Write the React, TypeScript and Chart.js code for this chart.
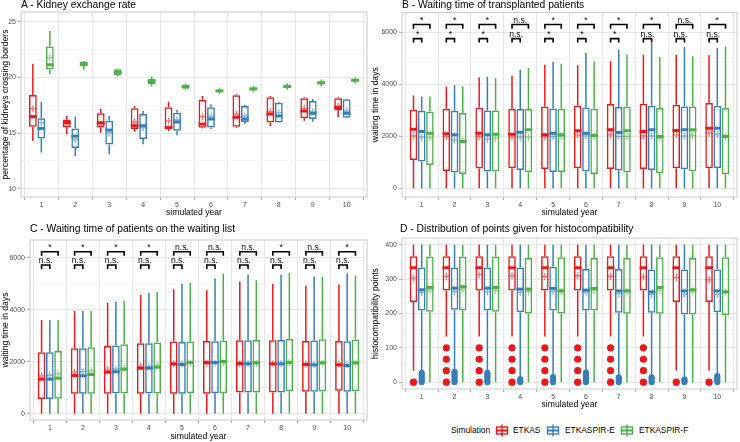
import React, { useEffect, useRef } from "react";
import { Chart, registerables } from "chart.js";
Chart.register(...registerables);

const FONT = "'Liberation Sans', Arial, Helvetica, sans-serif";
Chart.defaults.font.family = FONT;

const years = [1, 2, 3, 4, 5, 6, 7, 8, 9, 10];
const simulations = ["ETKAS", "ETKASPIR-E", "ETKASPIR-F"];
const simColors = ["#E41A1C", "#377EB8", "#4DAF4A"];
const simMeanColors = ["rgba(228,26,28,0.6)", "rgba(55,126,184,0.6)", "rgba(77,175,74,0.6)"];

// ---- Panel A: kidney exchange rate  [lower whisker, q1, median, q3, upper whisker]
const kidneyEtkas = [
  [14.3, 15.57, 16.48, 18.43, 21.24], [14.9, 15.5, 15.96, 16.23, 16.54], [15.03, 15.51, 15.93, 16.78, 17.17],
  [15.12, 15.36, 15.66, 17.23, 17.44], [15.2, 15.39, 15.5, 17.32, 17.83], [15.42, 15.48, 15.81, 17.98, 18.34],
  [15.48, 15.57, 16.42, 18.4, 18.5], [15.63, 15.96, 16.72, 18.22, 18.34], [16.11, 16.33, 16.99, 18.13, 18.22],
  [16.42, 17.08, 17.29, 18.13, 18.22],
];
const kidneyPirE = [
  [13.25, 14.52, 15.42, 16.33, 17.8], [12.95, 13.67, 14.73, 15.42, 16.48], [13.1, 13.98, 15.27, 16.11, 16.54],
  [14.0, 14.46, 15.66, 16.72, 17.0], [14.8, 15.21, 16.0, 16.84, 17.08], [15.36, 15.51, 16.27, 17.32, 17.59],
  [15.81, 16.0, 16.27, 17.44, 17.53], [15.93, 15.96, 16.54, 17.74, 17.83], [16.02, 16.27, 16.78, 17.89, 18.07],
  [16.33, 16.39, 16.78, 18.04, 18.1],
];
const kidneyPirF = [
  [20.3, 20.75, 21.15, 22.8, 24.2], [20.7, 21.05, 21.23, 21.42, 21.5], [20.15, 20.2, 20.48, 20.75, 20.78],
  [19.25, 19.4, 19.64, 19.9, 20.1], [18.95, 19.0, 19.19, 19.31, 19.4], [18.58, 18.67, 18.8, 18.89, 18.95],
  [18.77, 18.86, 18.98, 19.1, 19.19], [18.95, 19.07, 19.19, 19.34, 19.43], [19.25, 19.4, 19.52, 19.67, 19.73],
  [19.55, 19.64, 19.76, 19.85, 19.9],
];
const kidneyMeanEtkas = [17.2, 15.8, 15.8, 16.0, 16.1, 16.48, 16.72, 16.93, 17.23, 17.44];
const kidneyMeanPirE = [15.95, 14.4, 15.03, 15.48, 16.2, 16.5, 16.54, 16.84, 16.93, 16.99];
const kidneyMeanPirF = [21.8, 21.2, 20.45, 19.65, 19.17, 18.78, 18.97, 19.2, 19.53, 19.75];
const kidneyTicks = [10, 15, 20, 25];
const kidneyMinorTicks = [12.5, 17.5, 22.5];

// ---- Panel B: waiting time of transplanted patients
const transplantedEtkas = [
  [0, 1092, 2275, 3020, 3572], [0, 668, 2095, 3058, 3919], [0, 758, 2120, 3097, 4266], [0, 771, 2082, 3058, 4330],
  [0, 745, 2056, 3148, 4754], [0, 771, 2210, 3174, 4729], [0, 745, 2249, 3238, 4883], [0, 745, 2185, 3251, 5140],
  [0, 771, 2223, 3212, 5140], [0, 771, 2313, 3277, 5114],
];
const transplantedPirE = [
  [0, 1028, 2185, 2981, 3534], [0, 604, 2056, 2981, 3958], [0, 643, 2056, 2994, 4292], [0, 707, 2159, 3045, 4562],
  [0, 630, 2120, 3071, 4857], [0, 643, 2120, 3110, 5204], [0, 681, 2146, 3123, 5332], [0, 707, 2249, 3174, 5590],
  [0, 732, 2249, 3148, 5435], [0, 784, 2313, 3174, 5397],
];
const transplantedPirF = [
  [0, 900, 2120, 2956, 3534], [0, 553, 1799, 2891, 3919], [0, 643, 2082, 2994, 4228], [0, 617, 2249, 3045, 4626],
  [0, 630, 2056, 3058, 4793], [0, 553, 2030, 3058, 4883], [0, 604, 2210, 3148, 5140], [0, 578, 1992, 3084, 5050],
  [0, 643, 2249, 3148, 5076], [0, 540, 1992, 3084, 5461],
];
const transplantedMeanEtkas = [2017, 1992, 1992, 1966, 1979, 2056, 2056, 2017, 2056, 2120];
const transplantedMeanPirE = [1966, 1863, 1889, 1966, 1992, 2017, 1992, 2017, 2017, 2082];
const transplantedMeanPirF = [1953, 1838, 1928, 1966, 1992, 1992, 1992, 1928, 2030, 1966];
const transplantedSigEtkasPirF = ["*", "*", "*", "n.s.", "*", "*", "*", "*", "n.s.", "*"];
const transplantedSigEtkasPirE = ["*", "*", "*", "n.s.", "*", "*", "*", "n.s.", "n.s.", "n.s."];

// ---- Panel C: waiting time of patients on the waiting list
const waitingEtkas = [
  [0, 563, 1330, 2366, 3607], [0, 767, 1471, 2520, 3950], [0, 767, 1599, 2609, 4270], [0, 767, 1752, 2711, 4570],
  [0, 767, 1919, 2775, 4790], [0, 767, 1970, 2801, 4750], [0, 819, 1931, 2827, 5080], [0, 819, 1919, 2827, 5000],
  [0, 844, 1893, 2801, 4920], [0, 883, 1880, 2801, 4970],
];
const waitingPirE = [
  [0, 563, 1330, 2366, 3607], [0, 767, 1458, 2520, 3950], [0, 780, 1612, 2622, 4310], [0, 780, 1752, 2711, 4650],
  [0, 767, 1893, 2763, 5000], [0, 793, 1970, 2790, 5200], [0, 819, 1919, 2827, 5350], [0, 819, 1919, 2839, 5330],
  [0, 844, 1880, 2814, 5280], [0, 844, 1855, 2788, 5400],
];
const waitingPirF = [
  [0, 576, 1369, 2417, 3607], [0, 767, 1509, 2558, 3950], [0, 780, 1714, 2673, 4340], [0, 780, 1791, 2737, 4680],
  [0, 793, 1970, 2775, 5040], [0, 793, 2008, 2814, 5380], [0, 819, 1957, 2839, 5140], [0, 857, 1970, 2878, 5420],
  [0, 857, 1957, 2865, 5260], [0, 870, 1957, 2852, 5320],
];
const waitingMeanEtkas = [1458, 1599, 1688, 1816, 1919, 1945, 1919, 1919, 1906, 1906];
const waitingMeanPirE = [1480, 1625, 1714, 1816, 1919, 1945, 1919, 1919, 1893, 1893];
const waitingMeanPirF = [1535, 1650, 1752, 1855, 1945, 1957, 1945, 1957, 1945, 1945];
const waitingSigEtkasPirF = ["*", "*", "*", "*", "n.s.", "n.s.", "n.s.", "*", "n.s.", "*"];
const waitingSigEtkasPirE = ["n.s.", "n.s.", "n.s.", "n.s.", "n.s.", "n.s.", "n.s.", "n.s.", "n.s.", "n.s."];
const timeTicks = [0, 2000, 4000, 6000];
const timeMinorTicks = [1000, 3000, 5000];

// ---- Panel D: histocompatibility points
const histoEtkas = [
  [33.3, 233.3, 333.3, 366.7, 400], [133.3, 266.7, 333.3, 366.7, 400], [133.3, 266.7, 333.3, 366.7, 400],
  [133.3, 266.7, 333.3, 366.7, 400], [133.3, 266.7, 333.3, 366.7, 400], [133.3, 266.7, 333.3, 366.7, 400],
  [133.3, 266.7, 333.3, 366.7, 400], [133.3, 266.7, 333.3, 366.7, 400], [33.3, 233.3, 333.3, 366.7, 400],
  [33.3, 233.3, 333.3, 366.7, 400],
];
const histoPirE = [
  [30, 209, 269, 334, 400], [32, 211, 274, 334, 400], [30, 209, 274, 334, 400], [12, 204, 271, 334, 400],
  [18, 209, 273, 336, 400], [30, 209, 268, 330, 400], [16, 202, 266, 330, 400], [16, 202, 263, 328, 400],
  [10, 197, 266, 328, 400], [20, 204, 266, 328, 400],
];
const histoPirF = [
  [0, 205, 276, 366, 400], [0, 209, 278, 366, 400], [0, 205, 276, 366, 400], [0, 200, 271, 362, 400],
  [0, 200, 266, 364, 400], [0, 209, 273, 362, 400], [0, 199, 266, 362, 400], [0, 199, 276, 364, 400],
  [0, 197, 269, 362, 400], [0, 195, 263, 364, 400],
];
const histoMeanEtkas = [303, 308, 313, 310, 308, 310, 308, 307, 305, 298];
const histoMeanPirE = [261, 264, 263, 261, 264, 262, 258, 256, 256, 256];
const histoMeanPirF = [268, 271, 268, 264, 264, 266, 264, 268, 266, 263];
const histoOutliersEtkas = [
  [0], [0, 33.3, 66.7, 100], [0, 33.3, 66.7, 100], [0, 33.3, 66.7, 100], [0, 33.3, 66.7, 100],
  [0, 33.3, 66.7, 100], [0, 33.3, 66.7, 100], [0, 33.3, 66.7, 100], [0], [0],
];
const histoOutliersPirE = [
  [0, 4, 8, 12, 16, 20, 24, 27], [0, 4, 8, 12, 16, 20, 24, 28, 30], [0, 4, 8, 12, 16, 20, 24, 27],
  [0, 3, 6, 9], [0, 4, 8, 12, 15], [0, 4, 8, 12, 16, 20, 24, 28], [0, 4, 8, 12, 14], [0, 4, 8, 12, 14],
  [0, 3, 6, 8], [0, 4, 8, 12, 16, 18],
];
const histoOutliersPirF: number[][] = [[], [], [], [], [], [], [], [], [], []];
const histoTicks = [0, 100, 200, 300, 400];
const histoMinorTicks = [50, 150, 250, 350];

type Bracket = { level: number; tip: number; to: number; labels: string[] };
type Panel = {
  title: string;
  stats: number[][][];
  means: number[][];
  outliers?: number[][][];
  outlierRadius?: number[];
  yMin: number;
  yMax: number;
  yMajor: number[];
  yMinor: number[];
  yTitle: string;
  brackets?: Bracket[];
};

const panelA: Panel = {
  title: "A - Kidney exchange rate",
  stats: [kidneyEtkas, kidneyPirE, kidneyPirF],
  means: [kidneyMeanEtkas, kidneyMeanPirE, kidneyMeanPirF],
  yMin: 9.25, yMax: 25.9, yMajor: kidneyTicks, yMinor: kidneyMinorTicks,
  yTitle: "percentage of kidneys crossing borders",
};
const panelB: Panel = {
  title: "B - Waiting time of transplanted patients",
  stats: [transplantedEtkas, transplantedPirE, transplantedPirF],
  means: [transplantedMeanEtkas, transplantedMeanPirE, transplantedMeanPirF],
  yMin: -335, yMax: 6760, yMajor: timeTicks, yMinor: timeMinorTicks,
  yTitle: "waiting time in days",
  brackets: [
    { level: 6297, tip: 160, to: 2, labels: transplantedSigEtkasPirF },
    { level: 5757, tip: 150, to: 1, labels: transplantedSigEtkasPirE },
  ],
};
const panelC: Panel = {
  title: "C - Waiting time of patients on the waiting list",
  stats: [waitingEtkas, waitingPirE, waitingPirF],
  means: [waitingMeanEtkas, waitingMeanPirE, waitingMeanPirF],
  yMin: -240, yMax: 6680, yMajor: timeTicks, yMinor: timeMinorTicks,
  yTitle: "waiting time in days",
  brackets: [
    { level: 6230, tip: 155, to: 2, labels: waitingSigEtkasPirF },
    { level: 5720, tip: 155, to: 1, labels: waitingSigEtkasPirE },
  ],
};
const panelD: Panel = {
  title: "D - Distribution of points given for histocompatibility",
  stats: [histoEtkas, histoPirE, histoPirF],
  means: [histoMeanEtkas, histoMeanPirE, histoMeanPirF],
  outliers: [histoOutliersEtkas, histoOutliersPirE, histoOutliersPirF],
  outlierRadius: [3.6, 3, 3],
  yMin: -20, yMax: 420, yMajor: histoTicks, yMinor: histoMinorTicks,
  yTitle: "histocompatibility points",
};

function boxPlugin(p: Panel) {
  return {
    id: "boxExtras",
    afterDatasetsDraw(chart: any) {
      const ctx = chart.ctx as CanvasRenderingContext2D;
      const ys = chart.scales.y;
      const area = chart.chartArea;
      ctx.save();
      ctx.beginPath();
      ctx.rect(area.left, area.top, area.right - area.left, area.bottom - area.top);
      ctx.clip();
      p.stats.forEach((simStats, i) => {
        const meta = chart.getDatasetMeta(i);
        simStats.forEach((s, j) => {
          const bar = meta.data[j] as any;
          if (!bar) return;
          const x = bar.x;
          const half = bar.width / 2;
          ctx.strokeStyle = simColors[i];
          ctx.lineCap = "butt";
          ctx.lineWidth = 1.5;
          ctx.beginPath();
          ctx.moveTo(x, ys.getPixelForValue(s[3]));
          ctx.lineTo(x, ys.getPixelForValue(s[4]));
          ctx.moveTo(x, ys.getPixelForValue(s[1]));
          ctx.lineTo(x, ys.getPixelForValue(s[0]));
          ctx.stroke();
          const ym = ys.getPixelForValue(s[2]);
          ctx.lineWidth = 3;
          ctx.beginPath();
          ctx.moveTo(x - half, ym);
          ctx.lineTo(x + half, ym);
          ctx.stroke();
          if (p.outliers) {
            ctx.fillStyle = simColors[i];
            const r = p.outlierRadius ? p.outlierRadius[i] : 3;
            p.outliers[i][j].forEach((v) => {
              ctx.beginPath();
              ctx.arc(x, ys.getPixelForValue(v), r, 0, Math.PI * 2);
              ctx.fill();
            });
          }
          const mv = ys.getPixelForValue(p.means[i][j]);
          ctx.strokeStyle = simMeanColors[i];
          ctx.lineWidth = 1.3;
          ctx.beginPath();
          ctx.moveTo(x - 3.5, mv);
          ctx.lineTo(x + 3.5, mv);
          ctx.moveTo(x, mv - 3.5);
          ctx.lineTo(x, mv + 3.5);
          ctx.stroke();
        });
      });
      ctx.restore();
      if (p.brackets) {
        ctx.save();
        ctx.strokeStyle = "#000";
        ctx.fillStyle = "#000";
        ctx.lineWidth = 1.6;
        ctx.font = `8.6px ${FONT}`;
        ctx.textAlign = "center";
        ctx.textBaseline = "alphabetic";
        const m0 = chart.getDatasetMeta(0);
        p.brackets.forEach((b) => {
          const mt = chart.getDatasetMeta(b.to);
          b.labels.forEach((lab, j) => {
            const x1 = (m0.data[j] as any).x;
            const x2 = (mt.data[j] as any).x;
            const yl = ys.getPixelForValue(b.level);
            const yt = ys.getPixelForValue(b.level - b.tip);
            ctx.beginPath();
            ctx.moveTo(x1, yt);
            ctx.lineTo(x1, yl);
            ctx.lineTo(x2, yl);
            ctx.lineTo(x2, yt);
            ctx.stroke();
            ctx.fillText(lab, (x1 + x2) / 2, yl - 1.5);
          });
        });
        ctx.restore();
      }
    },
    afterDraw(chart: any) {
      const ctx = chart.ctx as CanvasRenderingContext2D;
      const a = chart.chartArea;
      ctx.save();
      ctx.strokeStyle = "#c9c9c9";
      ctx.lineWidth = 1;
      ctx.strokeRect(a.left, a.top, a.right - a.left, a.bottom - a.top);
      ctx.restore();
    },
  };
}

type Geo = {
  left: number; top: number; width: number; height: number;
  padTop: number; padRight: number; yWidth: number; xHeight: number;
  xTitlePad: number; xTickPad: number;
};

function BoxPanel({ panel, geo }: { panel: Panel; geo: Geo }) {
  const ref = useRef<HTMLCanvasElement>(null);
  useEffect(() => {
    const p = panel;
    const isMajor = (v: any) => p.yMajor.includes(v);
    const chart = new Chart(ref.current as HTMLCanvasElement, {
      type: "bar",
      data: {
        datasets: simulations.map((name, i) => ({
          label: name,
          data: years.map((yr, j) => ({ x: yr, y: [p.stats[i][j][1], p.stats[i][j][3]] })) as any,
          backgroundColor: "rgba(255,255,255,0)",
          borderColor: simColors[i],
          borderWidth: 1.5,
          borderSkipped: false,
          barPercentage: 0.92,
          categoryPercentage: 0.75,
        })),
      },
      options: {
        animation: false,
        responsive: false,
        events: [],
        layout: { padding: { top: geo.padTop, right: geo.padRight, left: 0, bottom: 0 } },
        plugins: { legend: { display: false }, tooltip: { enabled: false }, title: { display: false } },
        scales: {
          x: {
            type: "linear",
            min: 0.4,
            max: 10.6,
            offset: false,
            afterBuildTicks: (s: any) => {
              s.ticks = years.map((v) => ({ value: v }));
            },
            afterFit: (s: any) => {
              s.height = geo.xHeight;
            },
            ticks: {
              autoSkip: false,
              maxRotation: 0,
              color: "#4d4d4d",
              font: { size: 7, family: FONT },
              padding: geo.xTickPad,
              callback: (v: any) => String(v),
            },
            grid: { color: "#e6e6e6", lineWidth: 1, tickLength: 3, tickColor: "#b3b3b3", tickWidth: 1 },
            border: { display: false },
            title: {
              display: true,
              text: "simulated year",
              color: "#000",
              font: { size: 8.6, family: FONT },
              padding: { top: 0, bottom: geo.xTitlePad },
            },
          },
          y: {
            type: "linear",
            min: p.yMin,
            max: p.yMax,
            afterBuildTicks: (s: any) => {
              s.ticks = [...p.yMajor, ...p.yMinor].sort((a, b) => a - b).map((v) => ({ value: v }));
            },
            afterFit: (s: any) => {
              s.width = geo.yWidth;
            },
            ticks: {
              autoSkip: false,
              color: "#4d4d4d",
              font: { size: 7, family: FONT },
              padding: 2,
              callback: (v: any) => (isMajor(v) ? String(v) : ""),
            },
            grid: {
              color: (c: any) => (c.tick && isMajor(c.tick.value) ? "#e6e6e6" : "#f1f1f1"),
              lineWidth: (c: any) => (c.tick && isMajor(c.tick.value) ? 1 : 0.7),
              tickLength: 3,
              tickColor: (c: any) => (c.tick && isMajor(c.tick.value) ? "#b3b3b3" : "rgba(0,0,0,0)"),
              tickWidth: 1,
            },
            border: { display: false },
            title: {
              display: true,
              text: p.yTitle,
              color: "#000",
              font: { size: 8.6, family: FONT },
              padding: { top: 0, bottom: 0 },
            },
          },
        },
      } as any,
      plugins: [boxPlugin(p)],
    });
    return () => chart.destroy();
  }, [panel, geo]);
  return (
    <canvas
      ref={ref}
      width={geo.width}
      height={geo.height}
      style={{ position: "absolute", left: geo.left, top: geo.top, width: geo.width, height: geo.height }}
    />
  );
}

const geoA: Geo = { left: 0, top: 0, width: 370, height: 220, padTop: 12, padRight: 3, yWidth: 21, xHeight: 23, xTitlePad: 2, xTickPad: 1 };
const geoB: Geo = { left: 370, top: 0, width: 370, height: 220, padTop: 12.5, padRight: 3, yWidth: 32, xHeight: 23, xTitlePad: 2, xTickPad: 1 };
const geoC: Geo = { left: 0, top: 220, width: 370, height: 222, padTop: 20, padRight: 3, yWidth: 30, xHeight: 22, xTitlePad: 0, xTickPad: 1 };
const geoD: Geo = { left: 370, top: 220, width: 370, height: 190, padTop: 18, padRight: 3, yWidth: 32, xHeight: 21, xTitlePad: 0, xTickPad: 1 };

const titleStyle = (left: number, top: number): React.CSSProperties => ({
  position: "absolute",
  left,
  top,
  font: `10.3px ${FONT}`,
  lineHeight: "12px",
  color: "#000",
  whiteSpace: "nowrap",
});

function LegendKey({ color, left }: { color: string; left: number }) {
  return (
    <svg width={14} height={13} style={{ position: "absolute", left, top: 424 }}>
      <line x1={7} y1={0.5} x2={7} y2={12.5} stroke={color} strokeWidth={1.4} />
      <rect x={1.5} y={3} width={11} height={7} fill="none" stroke={color} strokeWidth={1.4} />
      <line x1={1.5} y1={6.5} x2={12.5} y2={6.5} stroke={color} strokeWidth={2} />
    </svg>
  );
}

const legendText = (left: number): React.CSSProperties => ({
  position: "absolute",
  left,
  top: 425,
  font: `8.4px ${FONT}`,
  lineHeight: "10px",
  color: "#000",
  whiteSpace: "nowrap",
});

export default function App() {
  const keyLeft = [495, 546, 620];
  const labelLeft = [513, 565, 639];
  return (
    <div style={{ position: "absolute", left: 0, top: 0, width: 740, height: 442, background: "#fff", overflow: "hidden" }}>
      <BoxPanel panel={panelA} geo={geoA} />
      <BoxPanel panel={panelB} geo={geoB} />
      <BoxPanel panel={panelC} geo={geoC} />
      <BoxPanel panel={panelD} geo={geoD} />
      <div style={titleStyle(21, -1)}>{panelA.title}</div>
      <div style={titleStyle(402, -1)}>{panelB.title}</div>
      <div style={titleStyle(30, 223)}>{panelC.title}</div>
      <div style={titleStyle(400, 223)}>{panelD.title}</div>
      <div style={legendText(451)}>Simulation</div>
      {simulations.map((s, i) => (
        <React.Fragment key={s}>
          <LegendKey color={simColors[i]} left={keyLeft[i]} />
          <div style={legendText(labelLeft[i])}>{s}</div>
        </React.Fragment>
      ))}
    </div>
  );
}
